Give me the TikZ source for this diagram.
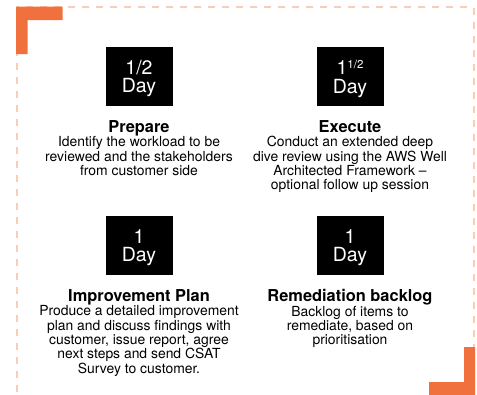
\documentclass[tikz,border=0pt]{standalone}
\usepackage{fontspec}
\setmainfont{TeX Gyre Heros}
\usetikzlibrary{positioning}
\definecolor{awsorange}{RGB}{240,113,62}
\definecolor{peach}{RGB}{250,205,182}
\tikzset{
  daybox/.style={fill=black,text=white,minimum width=67pt,minimum height=59pt,inner sep=0pt,
    align=center,text depth=0pt,font=\fontsize{19.5}{18.3}\selectfont},
  caption/.style={below=14pt of #1,inner sep=0pt,align=center,font=\fontsize{13.9}{14.4}\selectfont},
}
\newcommand{\steptitle}[1]{{\fontsize{16.4}{14.4}\selectfont\bfseries #1}}
\begin{document}
\begin{tikzpicture}[x=1pt,y=-1pt]
	\useasboundingbox (0,0) rectangle (477,394);
	\clip (0,0) rectangle (477,394);
	\draw[peach,line width=2pt,dash pattern=on 7pt off 7pt] (17,7.3) rectangle (473.5,420);
	\fill[awsorange] (16,6.7) -- (62.7,6.7) -- (62.7,20) -- (27.7,20) -- (27.7,54) -- (16,54) -- cycle;
	\fill[awsorange] (475,347) -- (475,400) -- (429,400) -- (429,382) -- (464,382) -- (464,347) -- cycle;
	\node[daybox] (prep) at (139,76.5) {1/2\\Day};
	\node[daybox] (exec) at (350,76.5) {1\raisebox{6.5pt}{\fontsize{11.5}{11.5}\selectfont 1/2}\\Day};
	\node[daybox] (plan) at (139,245.5) {1\\Day};
	\node[daybox] (back) at (350,245.5) {1\\Day};
	\node[caption=prep] (preptext) {\steptitle{Prepare}\\Identify the workload to be\\reviewed and the stakeholders\\from customer side};
	\node[caption=exec] (exectext) {\steptitle{Execute}\\Conduct an extended deep\\dive review using the AWS Well\\Architected Framework --\\optional follow up session};
	\node[caption=plan] (plantext) {\steptitle{Improvement Plan}\\Produce a detailed improvement\\plan and discuss findings with\\customer, issue report, agree\\next steps and send CSAT\\Survey to customer.};
	\node[caption=back] (backtext) {\steptitle{Remediation backlog}\\Backlog of items to\\remediate, based on\\prioritisation};
\end{tikzpicture}
\end{document}
